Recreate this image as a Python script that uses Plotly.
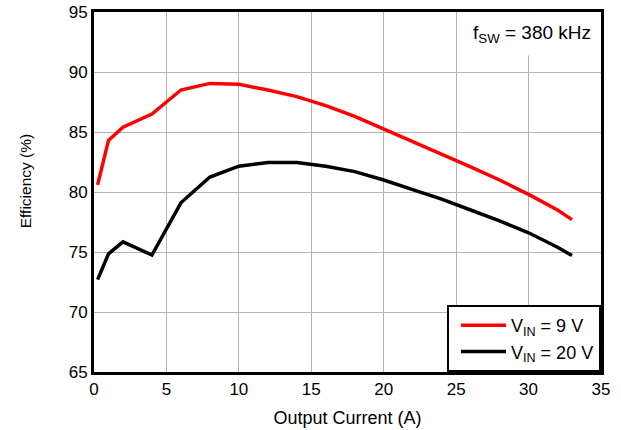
import plotly.graph_objects as go

current = [0.25, 1, 2, 4, 6, 8, 10, 12, 14, 16, 18, 20, 22, 24, 26, 28, 30, 32, 33]
eff_9v = [80.6, 84.3, 85.4, 86.5, 88.5, 89.05, 88.97, 88.5, 87.95, 87.2, 86.3, 85.25, 84.2, 83.2, 82.1, 81.0, 79.8, 78.5, 77.7]
eff_20v = [72.7, 74.85, 75.85, 74.75, 79.1, 81.25, 82.15, 82.45, 82.45, 82.15, 81.7, 81.0, 80.2, 79.4, 78.5, 77.6, 76.6, 75.4, 74.7]
series_names = ["V<sub>IN</sub> = 9 V", "V<sub>IN</sub> = 20 V"]
x_ticks = [0, 5, 10, 15, 20, 25, 30, 35]
y_ticks = [65, 70, 75, 80, 85, 90, 95]

FONT = "Liberation Sans, Arial, sans-serif"

fig = go.Figure()
fig.add_trace(go.Scatter(x=current, y=eff_9v, mode="lines", name=series_names[0],
                         line=dict(color="#ff0000", width=3.5)))
fig.add_trace(go.Scatter(x=current, y=eff_20v, mode="lines", name=series_names[1],
                         line=dict(color="#000000", width=3.5)))

fig.update_layout(
    width=621, height=430,
    margin=dict(l=94, r=20, t=12, b=58),
    paper_bgcolor="white", plot_bgcolor="white",
    font=dict(family=FONT, size=17, color="black"),
    legend=dict(x=1, y=0, xanchor="right", yanchor="bottom",
                bordercolor="black", borderwidth=2, bgcolor="white",
                font=dict(size=18), itemwidth=45, indentation=7),
    showlegend=True,
)
fig.update_xaxes(range=[0, 35], tickvals=x_ticks, showgrid=True, gridcolor="#b4b4b4", gridwidth=1,
                 showline=True, linecolor="black", linewidth=3, mirror=True, zeroline=False,
                 ticks="", automargin=False, ticklabeloverflow="allow",
                 title=dict(text="Output Current (A)", standoff=13, font=dict(size=18)))
fig.update_yaxes(range=[65, 95], tickvals=y_ticks, showgrid=True, gridcolor="#b4b4b4", gridwidth=1,
                 showline=True, linecolor="black", linewidth=3, mirror=True, zeroline=False,
                 ticks="", automargin=False, ticklabeloverflow="allow")
# y-axis title (placed slightly above centre, as in the reference)
fig.add_annotation(xref="paper", yref="paper", x=-0.136, y=0.53, xanchor="center", yanchor="middle",
                   text="Efficiency (%)", textangle=-90, showarrow=False, font=dict(size=15.5))
fig.add_annotation(xref="paper", yref="paper", x=1, y=1, xanchor="right", yanchor="top",
                   text="f<sub>SW</sub> = 380 kHz", showarrow=False, font=dict(size=19),
                   bgcolor="white", borderpad=9)

# remove the browser's default 8px body margin so the figure fills the window exactly
fig.write_html("out.html", config={"displayModeBar": False},
               post_script="document.body.style.margin='0px';document.body.style.overflow='hidden';")
